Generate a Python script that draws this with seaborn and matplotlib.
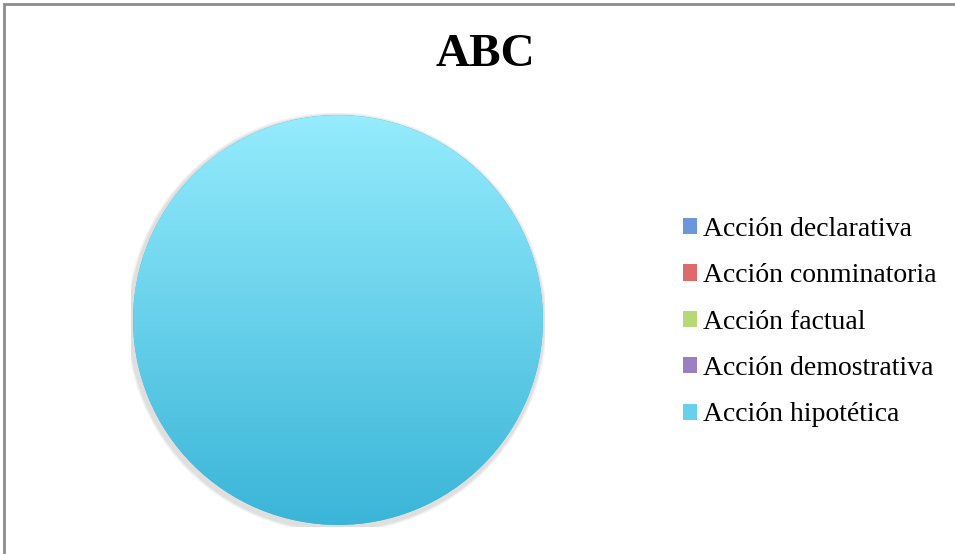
import numpy as np
import matplotlib.pyplot as plt
import seaborn as sns
from matplotlib.patches import Patch, Rectangle

sns.set_theme(style="white")
plt.rcParams['font.family'] = ['Liberation Serif', 'DejaVu Serif']
plt.rcParams['text.color'] = 'black'

title = "ABC"
categories = ["Acción declarativa", "Acción conminatoria", "Acción factual",
              "Acción demostrativa", "Acción hipotética"]
values = [0, 0, 0, 0, 100]
# top / bottom colours of each gradient
top_colors = ["#9ABEF5", "#F59A9A", "#D9F5A0", "#BFA8E0", "#95ECFD"]
bottom_colors = ["#3E70C0", "#C83C3C", "#93BE4A", "#7656A6", "#3AB5D8"]

fig = plt.figure(figsize=(9.55, 5.54), dpi=100)
fig.add_artist(Rectangle((0.0047, -0.05), 1.05, 1.043, transform=fig.transFigure,
                         fill=False, edgecolor="#8c8c8c", linewidth=2))

ax = fig.add_axes([131 / 955, 1 - 527 / 554, 414 / 955, 414 / 554])
ax.set_aspect("equal")

# soft shadow
for k, a in enumerate([0.04, 0.04, 0.05]):
    sh = plt.Circle((-0.006, -0.012), 1.0 + 0.005 * (3 - k), color="black",
                    alpha=a, linewidth=0, zorder=0)
    ax.add_patch(sh)

wedges, _ = ax.pie(values, colors=bottom_colors, startangle=90,
                   counterclock=False, radius=0.99,
                   wedgeprops=dict(linewidth=0))

for w, v, c0, c1 in zip(wedges, values, top_colors, bottom_colors):
    if v == 0:
        continue
    t = np.linspace(0, 1, 256)[:, None]
    rgb0 = np.array(plt.matplotlib.colors.to_rgb(c0))
    rgb1 = np.array(plt.matplotlib.colors.to_rgb(c1))
    grad = (rgb0 * (1 - t) + rgb1 * t)[:, None, :] * np.ones((1, 2, 1))
    im = ax.imshow(grad, extent=[-1, 1, -1, 1], origin="upper",
                   aspect="auto", zorder=2)
    im.set_clip_path(w)

ax.set_xlim(-1.0, 1.0)
ax.set_ylim(-1.0, 1.0)
ax.axis("off")

fig.text(485 / 955, 1 - 55 / 554, title, ha="center", va="center",
         fontsize=34, fontweight="bold", color="black")

handles = [Patch(facecolor=c, edgecolor="none") for c in
           [sns.blend_palette([a, b], 3)[1] for a, b in zip(top_colors, bottom_colors)]]
leg = fig.legend(handles, categories, loc="upper left",
                 bbox_to_anchor=(669 / 955, 1 - 203 / 554), frameon=False,
                 fontsize=20, handlelength=0.52, handleheight=0.52,
                 handletextpad=0.2, labelspacing=0.77, borderpad=0)
for txt in leg.get_texts():
    txt.set_color("black")

fig.savefig("out.png", dpi=100, facecolor="white")
